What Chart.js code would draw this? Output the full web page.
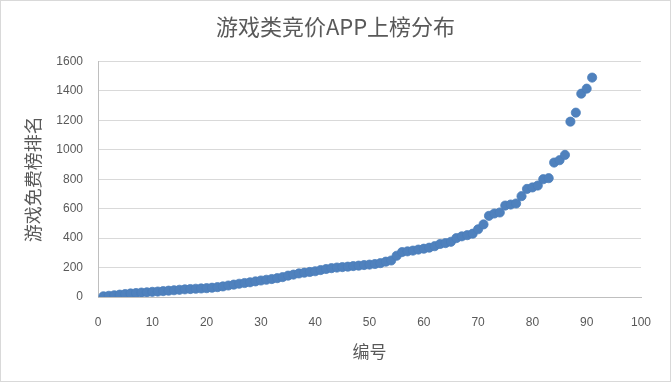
<!DOCTYPE html>
<html>
<head>
<meta charset="utf-8">
<script src="https://cdn.jsdelivr.net/npm/chart.js@4/dist/chart.umd.min.js"></script>
<style>
html,body{margin:0;padding:0;background:#fff;}
#wrap{width:671px;height:382px;position:relative;}
</style>
</head>
<body>
<div id="wrap"><canvas id="c" width="671" height="382"></canvas></div>
<script>
const chartTitle = "游戏类竞价APP上榜分布";
const xAxisTitle = "编号";
const yAxisTitle = "游戏免费榜排名";
const ids = [];
for (let i = 1; i <= 91; i++) ids.push(i);
const ranks = [
  5, 8, 12, 16, 20, 24, 27, 30, 32, 35,
  37, 40, 43, 46, 49, 52, 54, 56, 58, 60,
  63, 67, 72, 78, 84, 90, 95, 100, 106, 112,
  117, 122, 128, 135, 145, 152, 160, 165, 170, 175,
  183, 190, 196, 200, 203, 206, 210, 213, 217, 220,
  224, 230, 240, 248, 280, 305, 310, 315, 322, 328,
  335, 345, 360, 366, 375, 400, 412, 420, 430, 460,
  493, 551, 567, 574, 621, 628, 635, 685, 734, 744,
  757, 800, 807, 913, 929, 965, 1191, 1252, 1381, 1415,
  1490
];
const xTicks = {min: 0, max: 100, step: 10};
const yTicks = {min: 0, max: 1600, step: 200};

const points = ids.map((x, i) => ({x: x, y: ranks[i]}));

const borderPlugin = {
  id: 'outerBorder',
  beforeDraw(chart) {
    const ctx = chart.ctx;
    ctx.save();
    ctx.fillStyle = '#ffffff';
    ctx.fillRect(0, 0, chart.width, chart.height);
    ctx.strokeStyle = '#d9d9d9';
    ctx.lineWidth = 1;
    ctx.strokeRect(0.5, 0.5, chart.width - 1, chart.height - 1);
    ctx.restore();
  }
};

const tickFont = {family: '"Liberation Sans", Arial, sans-serif', size: 12};
const cjkFont = '"Noto Sans CJK SC", "Liberation Sans", sans-serif';
const plain = v => String(v);

new Chart(document.getElementById('c'), {
  type: 'scatter',
  data: {
    datasets: [{
      data: points,
      backgroundColor: '#4F81BD',
      borderColor: '#4A7EBB',
      borderWidth: 0.75,
      pointRadius: 4.6,
      pointHoverRadius: 4.6
    }]
  },
  options: {
    responsive: false,
    animation: false,
    devicePixelRatio: 1,
    layout: {padding: 0},
    plugins: {
      legend: {display: false},
      tooltip: {enabled: false},
      title: {
        display: true,
        text: chartTitle,
        color: '#595959',
        font: {family: cjkFont, size: 22, weight: 'normal'},
        padding: {top: 13, bottom: 22}
      }
    },
    scales: {
      x: {
        type: 'linear',
        min: xTicks.min,
        max: xTicks.max,
        afterFit(scale) { scale.height = 85; scale.paddingRight = 30; },
        ticks: {stepSize: xTicks.step, color: '#595959', font: tickFont, padding: 18, maxRotation: 0, callback: plain},
        grid: {display: false, drawTicks: false},
        border: {display: true, color: '#bfbfbf', width: 1},
        title: {
          display: true, text: xAxisTitle, color: '#595959',
          font: {family: cjkFont, size: 17, weight: 'normal'},
          padding: {top: 0, bottom: 20}
        }
      },
      y: {
        type: 'linear',
        min: yTicks.min,
        max: yTicks.max,
        afterFit(scale) { scale.width = 98; },
        ticks: {stepSize: yTicks.step, color: '#595959', font: tickFont, padding: 15, callback: plain},
        grid: {color: '#d9d9d9', lineWidth: 1, drawTicks: false},
        border: {display: true, color: '#bfbfbf', width: 1},
        title: {
          display: true, text: yAxisTitle, color: '#595959',
          font: {family: cjkFont, size: 18, weight: 'normal'},
          padding: {top: 22, bottom: 0}
        }
      }
    }
  },
  plugins: [borderPlugin]
});
</script>
</body>
</html>
